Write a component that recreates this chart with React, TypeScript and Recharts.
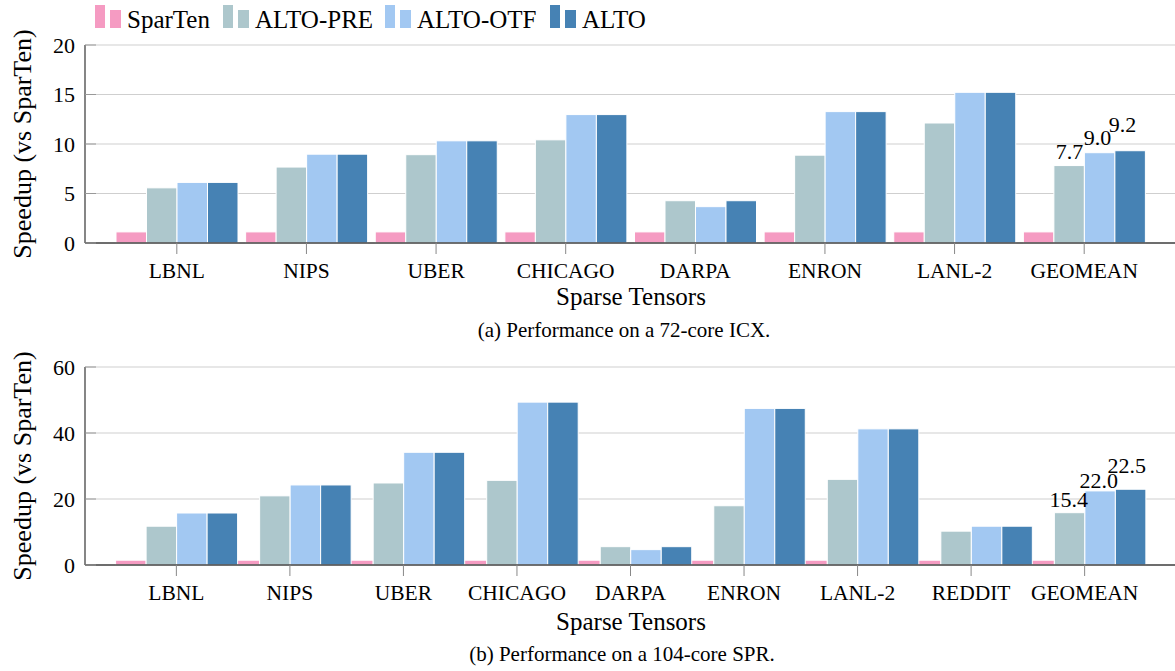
import React from 'react'
import { BarChart, Bar, XAxis, YAxis, CartesianGrid, LabelList } from 'recharts'

const FONT = '"Liberation Serif", "Times New Roman", serif'

const seriesNames = ['SparTen', 'ALTO-PRE', 'ALTO-OTF', 'ALTO']
const seriesColors = ['#f59bc2', '#adc7cc', '#a2c8f2', '#4682b4']

// (a) 72-core ICX
const icxCategories = ['LBNL', 'NIPS', 'UBER', 'CHICAGO', 'DARPA', 'ENRON', 'LANL-2', 'GEOMEAN']
const icxSparTen = [1, 1, 1, 1, 1, 1, 1, 1]
const icxAltoPre = [5.45, 7.55, 8.8, 10.3, 4.15, 8.75, 12.0, 7.7]
const icxAltoOtf = [6.0, 8.85, 10.2, 12.85, 3.55, 13.15, 15.1, 9.0]
const icxAlto = [6.0, 8.85, 10.2, 12.85, 4.15, 13.15, 15.1, 9.2]
const icxTicks = [0, 5, 10, 15, 20]

// (b) 104-core SPR
const sprCategories = ['LBNL', 'NIPS', 'UBER', 'CHICAGO', 'DARPA', 'ENRON', 'LANL-2', 'REDDIT', 'GEOMEAN']
const sprSparTen = [1, 1, 1, 1, 1, 1, 1, 1, 1]
const sprAltoPre = [11.3, 20.5, 24.4, 25.2, 5.1, 17.5, 25.5, 9.8, 15.4]
const sprAltoOtf = [15.3, 23.8, 33.7, 48.9, 4.2, 47.0, 40.8, 11.3, 22.0]
const sprAlto = [15.3, 23.8, 33.7, 48.9, 5.1, 47.0, 40.8, 11.3, 22.5]
const sprTicks = [0, 20, 40, 60]

const buildRows = (cats: string[], cols: number[][]) =>
  cats.map((c, i) => {
    const row: any = { name: c }
    cols.forEach((col, k) => {
      row[`s${k}`] = col[i]
      // only the geomean group gets value labels
      if (c === 'GEOMEAN') row[`l${k}`] = col[i].toFixed(1)
    })
    return row
  })

const icxRows = buildRows(icxCategories, [icxSparTen, icxAltoPre, icxAltoOtf, icxAlto])
const sprRows = buildRows(sprCategories, [sprSparTen, sprAltoPre, sprAltoOtf, sprAlto])

// pgfplots bars are a bit wider than the band allows and carry a thick edge on top,
// so re-spread them around the group centre and lift the top edge slightly
const makeShape = (k: number, target: number, lift: number) => (props: any) => {
  const { x, y, width, height, fill } = props
  if (!height || height <= 0) return <g />
  const center = x + width / 2 - (k - 1.5) * width
  const nx = center + (k - 2) * target
  return <rect x={nx} y={y - lift} width={target} height={height + lift} fill={fill} stroke="#ffffff" strokeWidth={1} />
}

type LabelCfg = { offset: number; dx: number }

function SpeedupChart({ rows, yMax, ticks, pad, barSize, lift, labels, top }: {
  rows: any[]; yMax: number; ticks: number[]; pad: number; barSize: number; lift: number; labels: LabelCfg[]; top: number
}) {
  return (
    <div style={{ position: 'absolute', left: 0, top, width: 1180, height: 300 }}>
      <BarChart width={1180} height={300} data={rows} margin={{ top: 45, right: 4, bottom: 7, left: 0 }} barGap={0} barCategoryGap={0}>
        <CartesianGrid horizontal vertical={false} stroke="#cfcfcf" strokeWidth={1} />
        {seriesNames.map((n, k) => (
          <Bar key={n} dataKey={`s${k}`} name={n} fill={seriesColors[k]} barSize={barSize} isAnimationActive={false} shape={makeShape(k, 30.5, lift)}>
            {k > 0 && (
              <LabelList
                dataKey={`l${k}`}
                position="top"
                offset={labels[k].offset}
                dx={labels[k].dx}
                fill="#000"
                fontSize={22}
                fontFamily={FONT}
              />
            )}
          </Bar>
        ))}
        <XAxis
          dataKey="name"
          height={50}
          interval={0}
          padding={{ left: pad, right: pad }}
          tickSize={11}
          tickMargin={9}
          axisLine={{ stroke: '#444', strokeWidth: 1.3 }}
          tickLine={{ stroke: '#888' }}
          tick={{ fill: '#000', fontSize: 21.5, fontFamily: FONT }}
        />
        <XAxis
          xAxisId="top"
          orientation="top"
          dataKey="name"
          height={0}
          interval={0}
          padding={{ left: pad, right: pad }}
          tickSize={11}
          axisLine={{ stroke: '#444', strokeWidth: 1.3 }}
          tickLine={{ stroke: '#888' }}
          tick={false}
        />
        <YAxis
          domain={[0, yMax]}
          ticks={ticks}
          width={85}
          tickSize={-11}
          tickMargin={21}
          axisLine={{ stroke: '#444', strokeWidth: 1.3 }}
          tickLine={{ stroke: '#999' }}
          tick={{ fill: '#000', fontSize: 22, fontFamily: FONT }}
          label={{
            content: (p: any) => {
              const vb = p.viewBox || { y: 45, height: 198 }
              const cx = 22
              const cy = vb.y + vb.height / 2
              return (
                <text x={cx} y={cy} transform={`rotate(-90 ${cx} ${cy})`} textAnchor="middle" dominantBaseline="central"
                  fontSize={26} fontFamily={FONT} fill="#000">
                  Speedup (vs SparTen)
                </text>
              )
            },
          }}
        />
        <YAxis
          yAxisId="right"
          orientation="right"
          domain={[0, yMax]}
          ticks={ticks}
          width={0}
          tickSize={-11}
          axisLine={{ stroke: '#444', strokeWidth: 1.3 }}
          tickLine={{ stroke: '#999' }}
          tick={false}
        />
      </BarChart>
    </div>
  )
}

const legendX = [95, 223, 385, 550]

export default function App() {
  const txt = { fontFamily: FONT, fill: '#000' }
  return (
    <div style={{ position: 'absolute', left: 0, top: 0, width: 1175, height: 671, overflow: 'hidden', background: '#fff' }}>
      <SpeedupChart
        rows={icxRows}
        yMax={20}
        ticks={icxTicks}
        pad={27}
        barSize={30}
        lift={1.2}
        top={0}
        labels={[{ offset: 0, dx: 0 }, { offset: 8, dx: 0 }, { offset: 9, dx: -2 }, { offset: 20, dx: -7 }]}
      />
      <SpeedupChart
        rows={sprRows}
        yMax={60}
        ticks={sprTicks}
        pad={34.6}
        barSize={28}
        lift={1.5}
        top={322}
        labels={[{ offset: 0, dx: 0 }, { offset: 7, dx: -2 }, { offset: 4, dx: 0 }, { offset: 18, dx: 0 }]}
      />
      <svg width={1175} height={671} style={{ position: 'absolute', left: 0, top: 0, pointerEvents: 'none' }}>
        {seriesNames.map((n, k) => (
          <g key={n}>
            <rect x={legendX[k]} y={5} width={10} height={23} fill={seriesColors[k]} />
            <rect x={legendX[k] + 15} y={10} width={11} height={18} fill={seriesColors[k]} />
            <text x={legendX[k] + 32} y={28} fontSize={25} {...txt}>{n}</text>
          </g>
        ))}
        <text x={631} y={305} textAnchor="middle" fontSize={25} {...txt}>Sparse Tensors</text>
        <text x={624} y={337} textAnchor="middle" fontSize={21} {...txt}>(a) Performance on a 72-core ICX.</text>
        <text x={631} y={630} textAnchor="middle" fontSize={25} {...txt}>Sparse Tensors</text>
        <text x={622} y={661} textAnchor="middle" fontSize={21} {...txt}>(b) Performance on a 104-core SPR.</text>
      </svg>
    </div>
  )
}
